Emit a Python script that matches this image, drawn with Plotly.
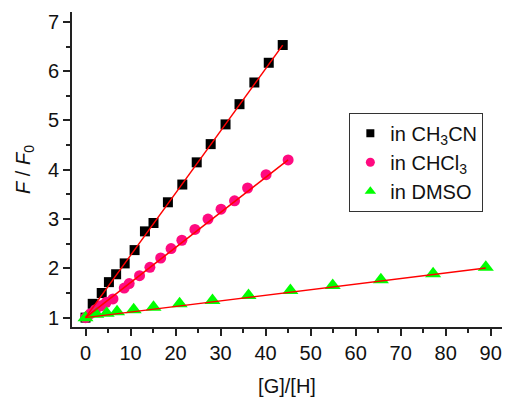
import plotly.graph_objects as go

# CH3CN
x_ch3cn = [0, 1.6, 3.6, 5.2, 6.8, 8.7, 10.9, 13.2, 15.1, 18.3, 21.5, 24.7, 27.8, 31.1, 34.2, 37.5, 40.7, 43.8]
y_ch3cn = [1.0, 1.28, 1.50, 1.72, 1.88, 2.10, 2.37, 2.75, 2.92, 3.34, 3.70, 4.15, 4.52, 4.92, 5.33, 5.77, 6.17, 6.53]
# CHCl3
x_chcl3 = [0, 1.1, 2.2, 3.4, 4.6, 6.1, 8.6, 9.7, 12.0, 14.3, 16.7, 19.0, 21.4, 24.3, 27.2, 30.1, 33.1, 36.0, 40.1, 45.0]
y_chcl3 = [1.0, 1.08, 1.16, 1.24, 1.31, 1.38, 1.60, 1.69, 1.85, 2.02, 2.21, 2.40, 2.57, 2.79, 3.00, 3.20, 3.37, 3.63, 3.90, 4.20]
# DMSO
x_dmso = [0, 2.4, 4.7, 7.0, 10.7, 15.1, 20.9, 28.2, 36.2, 45.5, 54.9, 65.6, 77.2, 88.9]
y_dmso = [1.0, 1.07, 1.09, 1.12, 1.16, 1.21, 1.28, 1.35, 1.45, 1.55, 1.65, 1.77, 1.89, 2.02]

# linear fits (intercept, slope)
fit_ch3cn = (1.0, 0.1262)
fit_chcl3 = (1.0, 0.0711)
fit_dmso = (1.0, 0.01135)

names = ["in CH<sub>3</sub>CN", "in CHCl<sub>3</sub>", "in DMSO"]
colors = ["#000000", "#FF0A80", "#00FF00"]
symbols = ["square", "circle", "triangle-up"]
sizes = [10, 11, 14]

FONT = "Arial, Liberation Sans, sans-serif"
FS = 20

fig = go.Figure()

series = [(x_ch3cn, y_ch3cn, fit_ch3cn), (x_chcl3, y_chcl3, fit_chcl3), (x_dmso, y_dmso, fit_dmso)]
for (xs, ys, fit), name, c, s, sz in zip(series, names, colors, symbols, sizes):
    fig.add_trace(go.Scatter(
        x=xs, y=ys, mode="markers", showlegend=False,
        marker=dict(symbol=s, size=sz, color=c, line=dict(width=0)),
    ))
for (xs, ys, fit) in series:
    x0, x1 = xs[0], xs[-1]
    fig.add_trace(go.Scatter(
        x=[x0, x1], y=[fit[0] + fit[1] * x0, fit[0] + fit[1] * x1],
        mode="lines", showlegend=False, line=dict(color="#FF0000", width=1.5),
    ))
for name, c, s, sz in zip(names, colors, symbols, [8, 9, 10]):
    fig.add_trace(go.Scatter(
        x=[None], y=[None], mode="markers", name=name,
        marker=dict(symbol=s, size=sz, color=c),
    ))

fig.update_layout(
    width=507, height=401,
    margin=dict(l=72, r=5, t=12, b=74),
    paper_bgcolor="white", plot_bgcolor="white",
    font=dict(family=FONT, size=FS, color="#111"),
    legend=dict(
        x=0.645, y=0.68, xanchor="left", yanchor="top",
        bordercolor="#333", borderwidth=1, bgcolor="white",
        font=dict(size=FS), tracegroupgap=0, itemwidth=30,
    ),
)
fig.update_xaxes(
    range=[-3, 92.5], tickmode="array", tickvals=list(range(0, 91, 10)),
    showgrid=False, zeroline=False, showline=True, linecolor="#222", linewidth=2,
    ticks="outside", ticklen=7, tickwidth=1.5, tickcolor="#222",
    minor=dict(tickvals=list(range(5, 91, 10)), ticks="outside", ticklen=4, tickwidth=1.5, tickcolor="#222"),
    title=dict(text="[G]/[H]", standoff=16, font=dict(size=FS)),
)
fig.update_yaxes(
    range=[0.81, 7.2], tickmode="array", tickvals=[1, 2, 3, 4, 5, 6, 7],
    showgrid=False, zeroline=False, showline=True, linecolor="#222", linewidth=2,
    ticks="outside", ticklen=7, tickwidth=1.5, tickcolor="#222",
    minor=dict(tickvals=[1.5, 2.5, 3.5, 4.5, 5.5, 6.5], ticks="outside", ticklen=4, tickwidth=1.5, tickcolor="#222"),
    title=dict(text="<i>F</i> / <i>F</i><sub>0</sub>", standoff=12, font=dict(size=FS)),
)

fig.write_html("out.html", config={"displayModeBar": False},
               post_script="document.body.style.margin='0';")
